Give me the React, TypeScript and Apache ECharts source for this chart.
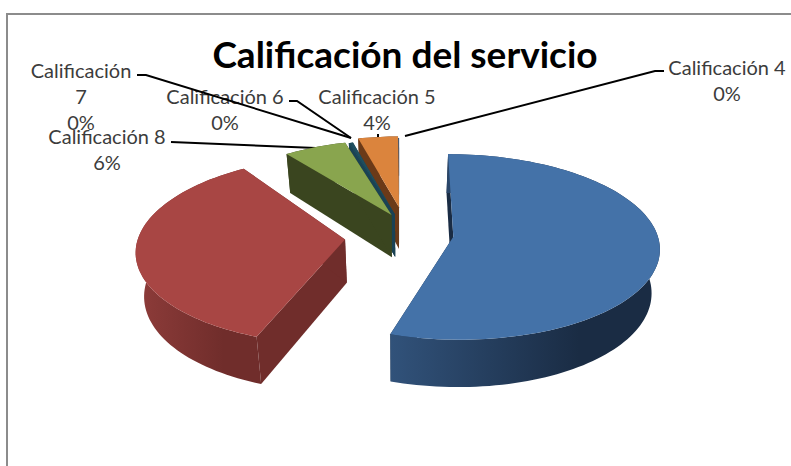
import React, { useEffect, useRef } from "react";
import * as echarts from "echarts";

const titleText = "Calificación del servicio";
const categories = ["Calificación 10", "Calificación 9", "Calificación 8", "Calificación 7", "Calificación 6", "Calificación 5", "Calificación 4"];
const values = [54.9, 34.8, 5.9, 0.1, 0.3, 3.9, 0.1];
const percentLabels = ["55%", "35%", "6%", "0%", "0%", "4%", "0%"];

// styling / layout
const topColors = ["#4472A8", "#A84644", "#89A54E", "#1F4F5F", "#1F4F5F", "#DB843D", "#2F5A8A"];
const wallLeft = ["#31527A", "#8E3C3A", "#3A451F", "#1A4254", "#1A4254", "#6B3A18", "#1E3A58"];
const wallRight = ["#1A2C44", "#702D2B", "#3A451F", "#1A4254", "#1A4254", "#6B3A18", "#1E3A58"];
const drawOrder = [1, 0, 6, 5, 4, 3, 2];
const explodeX = [0.258, -0.265, -0.042, -0.025, -0.025, -0.005, -0.005];
const explodeY = [-0.03, -0.06, 0.21, 0.215, 0.215, 0.3, 0.3];
const radiusScale = [0.99, 1, 0.94, 0.93, 0.93, 0.9, 0.88];
const rotation = [0, 0.055, 0, 0, 0, 0, 0];

const CX = 400, CY = 234, A = 206, B = 92, P = 0.11, H = 43;

function project(X: number, Y: number, level: number): number[] {
  const w = 1 + P * Y;
  const sx = level ? 0.968 : 1;
  return [CX + (A * X * sx) / w, CY - (B * Y) / w + level * H * (1 - 0.1 * Y)];
}

const total = values.reduce((s, v) => s + v, 0);
const angles: number[][] = [];
{
  let acc = 0;
  values.forEach((v) => {
    angles.push([(acc / total) * 2 * Math.PI, ((acc + v) / total) * 2 * Math.PI]);
    acc += v;
  });
}

function renderSlice(params: any) {
  const i = drawOrder[params.dataIndex];
  const a0 = angles[i][0] + rotation[i];
  const a1 = angles[i][1] + rotation[i];
  const tx = explodeX[i], ty = explodeY[i], r = radiusScale[i];
  const steps = Math.max(2, Math.ceil((a1 - a0) / 0.03));
  const arc = (level: number) => {
    const pts: number[][] = [];
    for (let k = 0; k <= steps; k++) {
      const t = a0 + ((a1 - a0) * k) / steps;
      pts.push(project(tx + r * Math.sin(t), ty + r * Math.cos(t), level));
    }
    return pts;
  };
  const topArc = arc(0), botArc = arc(1);
  const tip0 = project(tx, ty, 0), tip1 = project(tx, ty, 1);
  const poly = (points: number[][], fill: any) => ({ type: "polygon", shape: { points }, style: { fill, stroke: "none" } });
  const grad = { type: "linear", x: 0, y: 0, x2: 1, y2: 0, colorStops: [{ offset: 0, color: wallLeft[i] }, { offset: 0.7, color: wallRight[i] }, { offset: 1, color: wallRight[i] }] };
  return {
    type: "group",
    children: [
      poly([tip0, topArc[0], botArc[0], tip1], wallRight[i]),
      poly([tip0, topArc[steps], botArc[steps], tip1], wallRight[i]),
      poly([...topArc, ...botArc.slice().reverse()], grad),
      poly([tip0, ...topArc], topColors[i]),
    ],
  };
}

const labelColor = "#3C3C3C";
const innerColor = "#1E1E1E";
const labelSpec = [
  { i: 0, x: 579, y: 267, c: innerColor },
  { i: 1, x: 212, y: 259, c: innerColor },
  { i: 2, x: 107, y: 149, c: labelColor },
  { i: 3, x: 81, y: 96, c: labelColor, wrap: true },
  { i: 4, x: 225, y: 109, c: labelColor },
  { i: 5, x: 377, y: 109, c: labelColor },
  { i: 6, x: 727, y: 80, c: labelColor },
];
const leaders = [
  [[137, 75], [146, 75], [351, 138]],
  [[289, 101], [297, 101], [351, 138]],
  [[171, 142], [316, 148]],
  [[378, 134], [378, 137]],
  [[664, 71], [655, 71], [405, 136]],
];

export default function App() {
  const ref = useRef<HTMLDivElement>(null);
  useEffect(() => {
    document.body.style.margin = "0";
    const chart = echarts.init(ref.current!, null, { renderer: "svg" });
    const font = "Lato";
    chart.setOption({
      animation: false,
      backgroundColor: "#FFFFFF",
      title: {
        text: titleText,
        left: 400,
        top: 30,
        textAlign: "center",
        textStyle: { fontFamily: font, fontWeight: "bold", fontSize: 37, color: "#000000" },
      },
      series: [
        {
          type: "custom",
          coordinateSystem: "none",
          renderItem: renderSlice,
          silent: true,
          data: drawOrder.map((i) => [values[i]]),
        },
      ],
      graphic: [
        { type: "line", shape: { x1: 7, y1: 14, x2: 791, y2: 14 }, style: { stroke: "#8C8C8C", lineWidth: 2 } },
        { type: "line", shape: { x1: 7, y1: 13, x2: 7, y2: 466 }, style: { stroke: "#8C8C8C", lineWidth: 2 } },
        ...labelSpec.map((l) => ({
          type: "text",
          x: l.x,
          y: l.y,
          style: {
            text: (l.wrap ? categories[l.i].replace(" ", "\n") : categories[l.i]) + "\n" + percentLabels[l.i],
            font: `20px ${font}`,
            lineHeight: 26,
            fill: l.c,
            textAlign: "center",
            textVerticalAlign: "middle",
          },
        })),
        ...leaders.map((points) => ({ type: "polyline", shape: { points }, style: { stroke: "#000000", lineWidth: 2, fill: "none" } })),
      ],
    });
    return () => chart.dispose();
  }, []);
  return <div ref={ref} style={{ width: 791, height: 466 }} />;
}
